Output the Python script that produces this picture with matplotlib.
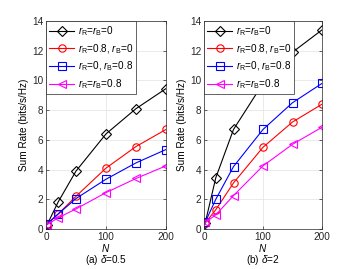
import matplotlib
matplotlib.use('Agg')
import matplotlib.pyplot as plt

N = [2, 20, 50, 100, 150, 200]

labels = [r'$r_\mathrm{R}$=$r_\mathrm{B}$=0',
          r'$r_\mathrm{R}$=0.8, $r_\mathrm{B}$=0',
          r'$r_\mathrm{R}$=0, $r_\mathrm{B}$=0.8',
          r'$r_\mathrm{R}$=$r_\mathrm{B}$=0.8']
colors = ['black', 'red', 'blue', 'magenta']
markers = ['D', 'o', 's', '<']

# delta = 0.5
rate_a = [
    [0.3, 1.8, 3.9, 6.4, 8.1, 9.45],
    [0.35, 1.0, 2.2, 4.1, 5.55, 6.7],
    [0.35, 1.0, 2.05, 3.35, 4.45, 5.35],
    [0.3, 0.75, 1.35, 2.45, 3.4, 4.25],
]
# delta = 2
rate_b = [
    [0.4, 3.45, 6.7, 9.8, 11.9, 13.4],
    [0.4, 1.3, 3.1, 5.5, 7.2, 8.4],
    [0.45, 2.0, 4.2, 6.7, 8.5, 9.8],
    [0.45, 0.95, 2.25, 4.25, 5.7, 6.85],
]
captions = [r'(a) $\delta$=0.5', r'(b) $\delta$=2']

plt.rcParams['font.family'] = 'Liberation Sans'
plt.rcParams['font.size'] = 7.2
plt.rcParams['mathtext.fontset'] = 'custom'
plt.rcParams['mathtext.rm'] = 'Liberation Sans'
plt.rcParams['mathtext.it'] = 'Liberation Sans:italic'

fig = plt.figure(figsize=(3.59, 2.69), dpi=100)
axes = [fig.add_axes([46 / 359, 40 / 269, 120 / 359, 208 / 269]),
        fig.add_axes([204 / 359, 40 / 269, 118 / 359, 208 / 269])]

for ax, rates, cap in zip(axes, [rate_a, rate_b], captions):
    for y, c, m, lab in zip(rates, colors, markers, labels):
        ms = 4.6 if m == 'D' else 5.3
        ax.plot(N, y, color=c, marker=m, markersize=ms, markerfacecolor='none',
                markeredgewidth=0.8, linewidth=0.8, label=lab)
    ax.set_xlim(0, 200)
    ax.set_ylim(0, 14)
    ax.set_xticks([0, 100, 200])
    ax.set_yticks(range(0, 15, 2))
    ax.grid(True, color='#e6e6e6', linewidth=0.6)
    ax.set_axisbelow(True)
    ax.tick_params(direction='in', length=2.5, width=0.5, labelsize=7.2, pad=2,
                   colors='#262626', top=True, right=True)
    for s in ax.spines.values():
        s.set_linewidth(0.5)
        s.set_color('#262626')
    ax.set_ylabel('Sum Rate (bits/s/Hz)', labelpad=2)
    ax.set_xlabel('$\\mathit{N}$', labelpad=0)
    ax.annotate(cap, xy=(0.5, 0), xycoords='axes fraction', xytext=(0, -22),
                textcoords='offset points', ha='center', va='center')
    leg = ax.legend(loc='upper left', fontsize=7.2, fancybox=False, framealpha=1,
                    edgecolor='#262626', borderpad=0.3, handlelength=2.5,
                    handletextpad=0.4, labelspacing=0.42, borderaxespad=0)
    leg.get_frame().set_linewidth(0.5)

fig.savefig('out.png', dpi=100)
